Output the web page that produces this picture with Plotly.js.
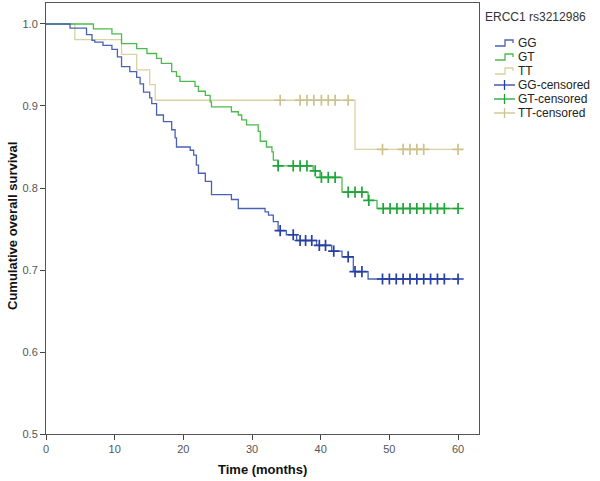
<!DOCTYPE html>
<html>
<head>
<meta charset="utf-8">
<script src="https://cdn.plot.ly/plotly-3.0.1.min.js"></script>
<style>html,body{margin:0;padding:0;background:#fff;}#chart{width:600px;height:481px;}</style>
</head>
<body>
<div id="chart"></div>
<script>
// ---- data ----
const ggTime = [0, 3.5, 5.9, 6.7, 7.1, 8.3, 9.6, 10.4, 11.0, 12.2, 13.2, 13.7, 14.2, 15.1, 15.4, 16.1, 17.1, 18.3, 18.8, 19.0, 21.0, 21.5, 21.9, 22.2, 23.2, 24.1, 27.0, 28.0, 31.9, 32.4, 33.1, 33.8, 35.0, 36.5, 39.4, 41.6, 43.1, 44.75, 46.9, 60.0];
const ggSurv = [1.0, 0.995, 0.987, 0.980, 0.978, 0.974, 0.969, 0.960, 0.948, 0.942, 0.935, 0.927, 0.917, 0.910, 0.903, 0.889, 0.881, 0.871, 0.861, 0.850, 0.846, 0.840, 0.828, 0.818, 0.808, 0.792, 0.786, 0.775, 0.771, 0.767, 0.759, 0.748, 0.743, 0.736, 0.730, 0.723, 0.716, 0.698, 0.689, 0.689];
const ggCens = [34.1, 36.0, 37.0, 37.8, 38.7, 39.8, 40.7, 41.9, 44.0, 45.0, 46.0, 49.0, 50.0, 51.0, 52.0, 53.0, 54.0, 55.0, 56.0, 57.0, 58.0, 60.0];

const gtTime = [0, 6.9, 9.6, 11.0, 13.2, 14.7, 16.1, 16.8, 18.3, 19.0, 19.5, 21.7, 22.2, 23.2, 23.9, 24.1, 27.0, 28.0, 28.5, 29.2, 30.9, 31.2, 32.1, 32.9, 33.1, 33.8, 38.9, 39.9, 43.1, 46.9, 48.2, 60.0];
const gtSurv = [1.0, 0.994, 0.988, 0.976, 0.970, 0.964, 0.958, 0.952, 0.942, 0.936, 0.930, 0.924, 0.918, 0.913, 0.905, 0.899, 0.893, 0.889, 0.883, 0.877, 0.869, 0.857, 0.850, 0.844, 0.834, 0.827, 0.821, 0.813, 0.795, 0.785, 0.775, 0.775];
const gtCens = [33.8, 36.0, 37.0, 38.0, 39.2, 40.1, 41.1, 42.1, 44.0, 45.0, 46.0, 47.0, 49.1, 50.1, 51.1, 52.0, 53.0, 54.0, 55.0, 56.0, 57.0, 58.0, 60.0];

const ttTime = [0, 4.2, 11.0, 13.2, 15.1, 15.9, 45.0, 60.0];
const ttSurv = [1.0, 0.981, 0.963, 0.944, 0.926, 0.907, 0.847, 0.847];
const ttCens = [34.1, 37.0, 38.0, 39.0, 40.1, 41.1, 42.1, 44.0, 49.0, 52.0, 53.0, 54.0, 55.0, 60.0];

const xTicks = [0, 10, 20, 30, 40, 50, 60];
const yTicks = [0.5, 0.6, 0.7, 0.8, 0.9, 1.0];
const legendTitle = 'ERCC1 rs3212986';
const legendNames = ['GG', 'GT', 'TT', 'GG-censored', 'GT-censored', 'TT-censored'];
// ---------------------------------------

const C = {
  gg: '#4a62b6', ggC: '#263fa3',
  gt: '#4cba4c', gtC: '#1ea538',
  tt: '#d9d2a2', ttC: '#cdc28c'
};

function survAt(times, surv, t) {
  let s = surv[0];
  for (let i = 0; i < times.length; i++) { if (times[i] <= t) s = surv[i]; }
  return s;
}

function lineTrace(t, s, color) {
  return {x: t, y: s, type: 'scatter', mode: 'lines', line: {shape: 'hv', color: color, width: 1.3}, showlegend: false, hoverinfo: 'skip'};
}
function censTrace(ct, t, s, color) {
  return {x: ct, y: ct.map(v => survAt(t, s, v)), type: 'scatter', mode: 'markers',
    marker: {symbol: 'cross-thin-open', size: 8, color: color, line: {width: 1.7, color: color}}, showlegend: false, hoverinfo: 'skip'};
}

const traces = [
  lineTrace(ttTime, ttSurv, C.tt),
  lineTrace(gtTime, gtSurv, C.gt),
  lineTrace(ggTime, ggSurv, C.gg),
  censTrace(ttCens, ttTime, ttSurv, C.ttC),
  censTrace(gtCens, gtTime, gtSurv, C.gtC),
  censTrace(ggCens, ggTime, ggSurv, C.ggC)
];

// pixel -> paper helpers (plot area: x 46..479, y 3..434)
const L = 46, R = 479, T = 3, B = 434;
const px = p => (p - L) / (R - L);
const py = p => (B - p) / (B - T);

const font = 'Arial, "Liberation Sans", sans-serif';
const shapes = [];
const annotations = [];

annotations.push({xref: 'paper', yref: 'paper', x: px(483), y: py(17), xanchor: 'left', yanchor: 'middle', text: legendTitle, showarrow: false, font: {family: font, size: 12, color: '#333'}});
const legY = [43, 57, 71, 85, 99, 113];
const legCol = [C.gg, C.gt, C.tt, C.ggC, C.gtC, C.ttC];
legendNames.forEach((n, i) => {
  const y = legY[i];
  annotations.push({xref: 'paper', yref: 'paper', x: px(516), y: py(y), xanchor: 'left', yanchor: 'middle', text: n, showarrow: false, font: {family: font, size: 12, color: '#222'}});
  if (i < 3) {
    shapes.push({type: 'path', xref: 'paper', yref: 'paper',
      path: `M${px(495)},${py(y + 3)} L${px(505)},${py(y + 3)} L${px(505)},${py(y - 3)} L${px(513)},${py(y - 3)} L${px(513)},${py(y)}`,
      line: {color: legCol[i], width: 1.3}});
  } else {
    shapes.push({type: 'line', xref: 'paper', yref: 'paper', x0: px(494), x1: px(515), y0: py(y), y1: py(y), line: {color: legCol[i], width: 1.3}});
    shapes.push({type: 'line', xref: 'paper', yref: 'paper', x0: px(504.5), x1: px(504.5), y0: py(y - 5), y1: py(y + 5), line: {color: legCol[i], width: 1.3}});
  }
});

annotations.push({xref: 'paper', yref: 'paper', x: px(262), y: py(469), xanchor: 'center', yanchor: 'middle', text: '<b>Time (months)</b>', showarrow: false, font: {family: font, size: 13, color: '#111'}});
annotations.push({xref: 'paper', yref: 'paper', x: px(12), y: py(226), xanchor: 'center', yanchor: 'middle', textangle: -90, text: '<b>Cumulative overall survival</b>', showarrow: false, font: {family: font, size: 13, color: '#111'}});

const layout = {
  width: 600, height: 481,
  margin: {l: L, r: 600 - R, t: T, b: 481 - B, pad: 0},
  paper_bgcolor: '#fff', plot_bgcolor: '#fff',
  showlegend: false,
  xaxis: {range: [0, 63.05], tickvals: xTicks, ticktext: xTicks.map(String), ticks: 'outside', ticklen: 5, tickwidth: 1, tickcolor: '#444',
    showline: true, linecolor: '#555', linewidth: 1, mirror: true, showgrid: false, zeroline: false,
    tickfont: {family: font, size: 11, color: '#555'}},
  yaxis: {range: [0.5, 1.0256], tickvals: yTicks, ticktext: yTicks.map(v => v.toFixed(1)), ticks: 'outside', ticklen: 5, tickwidth: 1, tickcolor: '#444',
    showline: true, linecolor: '#555', linewidth: 1, mirror: true, showgrid: false, zeroline: false,
    tickfont: {family: font, size: 11, color: '#555'}},
  shapes: shapes,
  annotations: annotations
};

Plotly.newPlot('chart', traces, layout, {staticPlot: true, displayModeBar: false});
</script>
</body>
</html>
